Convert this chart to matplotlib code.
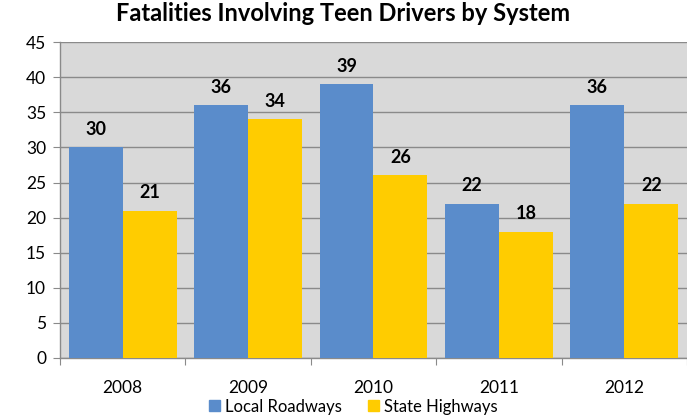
import matplotlib
matplotlib.use("Agg")
import matplotlib.pyplot as plt
import numpy as np
from matplotlib.patches import Patch

years = ["2008", "2009", "2010", "2011", "2012"]
local_roadways = [30, 36, 39, 22, 36]
state_highways = [21, 34, 26, 18, 22]
y_ticks = [0, 5, 10, 15, 20, 25, 30, 35, 40, 45]

plt.rcParams["font.family"] = ["Lato", "DejaVu Sans"]

BLUE = "#5a8ccb"
YELLOW = "#ffcc00"
GRID = "#8a8a8a"

fig = plt.figure(figsize=(6.87, 4.17), dpi=100)
ax = fig.add_axes([0.0873, 0.1415, 0.9127, 0.7575])
ax.set_facecolor("#d9d9d9")

x = np.arange(len(years))
w = 0.43
b1 = ax.bar(x - w / 2, local_roadways, w, color=BLUE, zorder=3)
b2 = ax.bar(x + w / 2, state_highways, w, color=YELLOW, zorder=3)

for bars, vals in ((b1, local_roadways), (b2, state_highways)):
    for r, v in zip(bars, vals):
        ax.annotate(str(v), (r.get_x() + r.get_width() / 2, v),
                    xytext=(0, 7), textcoords="offset points",
                    ha="center", va="bottom", fontsize=13, fontweight="bold",
                    color="black")

ax.set_xlim(-0.5, len(years) - 0.5)
ax.set_ylim(0, 45)
ax.set_yticks(y_ticks)
ax.set_yticklabels([str(t) for t in y_ticks], fontsize=12.5)
ax.yaxis.grid(True, color=GRID, linewidth=1, zorder=1)
ax.set_axisbelow(True)

ax.set_xticks(np.arange(len(years) + 1) - 0.5)
ax.set_xticklabels([])
ax.set_xticks(x, minor=True)
ax.set_xticklabels(years, minor=True, fontsize=12.5)
ax.tick_params(axis="x", which="minor", length=0, pad=16)
ax.tick_params(axis="x", which="major", length=5, color=GRID)
ax.tick_params(axis="y", length=5, color=GRID, pad=5)

for side in ("top", "right"):
    ax.spines[side].set_visible(False)
for side in ("left", "bottom"):
    ax.spines[side].set_color(GRID)
    ax.spines[side].set_linewidth(1)

fig.suptitle("Fatalities Involving Teen Drivers by System", x=0.5, y=0.995,
             fontsize=17, fontweight="bold")

handles = [Patch(color=BLUE, label="Local Roadways"),
           Patch(color=YELLOW, label="State Highways")]
fig.legend(handles=handles, loc="lower center", bbox_to_anchor=(0.514, -0.03),
           ncol=2, frameon=False, fontsize=12, handlelength=0.65,
           handleheight=0.65, handletextpad=0.3, columnspacing=1.6)

fig.savefig("out.png", dpi=100)
